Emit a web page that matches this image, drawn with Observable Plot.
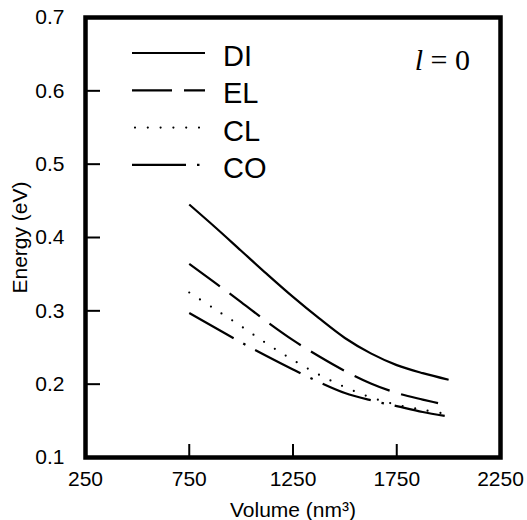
<!DOCTYPE html>
<html><head><meta charset="utf-8">
<script src="https://cdn.jsdelivr.net/npm/d3@7"></script>
<script src="https://cdn.jsdelivr.net/npm/@observablehq/plot@0.6"></script>
<style>body{margin:0;background:#fff;overflow:hidden;} #chart svg{display:block;}</style>
</head><body><div id="chart"></div>
<script>
// Data
const volume   = [750, 875, 1000, 1125, 1250, 1375, 1500, 1625, 1750, 1875, 2000];
const energyDI = [0.445, 0.414, 0.382, 0.350, 0.319, 0.290, 0.263, 0.242, 0.226, 0.215, 0.206];
const energyEL = [0.364, 0.338, 0.312, 0.285, 0.260, 0.238, 0.218, 0.201, 0.188, 0.179, 0.171];
const energyCL = [0.325, 0.302, 0.279, 0.255, 0.233, 0.213, 0.196, 0.182, 0.172, 0.165, 0.159];
const energyCO = [0.297, 0.277, 0.257, 0.238, 0.220, 0.203, 0.188, 0.178, 0.170, 0.162, 0.156];
const seriesNames = ["DI", "EL", "CL", "CO"];
const xTicks = [250, 750, 1250, 1750, 2250];
const yTicks = [0.1, 0.2, 0.3, 0.4, 0.5, 0.6, 0.7];
const xLabel = "Volume (nm³)";
const yLabel = "Energy (eV)";
const annotation = "l = 0";

const energies = {DI: energyDI, EL: energyEL, CL: energyCL, CO: energyCO};
const rows = seriesNames.flatMap(s => volume.map((v, i) => ({series: s, volume: v, energy: energies[s][i]})));

const styles = {
  DI: {dash: null, cap: "butt"},
  EL: {dash: "38 12", cap: "butt"},
  CL: {dash: "0 12.8", cap: "round"},
  CO: {dash: "51 11 2.5 11", cap: "butt"}
};

const W = 527, H = 520, mL = 85, mR = 27, mT = 17, mB = 63;
const innerW = W - mL - mR, innerH = H - mT - mB;
const font = "'Liberation Sans', Arial, Helvetica, sans-serif";

const chart = Plot.plot({
  width: W, height: H,
  marginLeft: mL, marginRight: mR, marginTop: mT, marginBottom: mB,
  style: {fontFamily: font, fontSize: "21px", color: "black", background: "white"},
  x: {domain: [250, 2250]},
  y: {domain: [0.1, 0.7]},
  marks: [
    Plot.axisX(xTicks, {anchor: "bottom", tickSize: 0, tickPadding: 14, fontSize: 21,
      tickFormat: d3.format("d"),
      label: xLabel, labelAnchor: "center", labelOffset: 59, labelArrow: "none"}),
    Plot.axisY(yTicks, {anchor: "left", tickSize: 0, tickPadding: 21, fontSize: 21,
      tickFormat: d3.format(".1f"),
      label: yLabel, labelAnchor: "center", labelOffset: 73, labelArrow: "none"}),
    Plot.ruleX(xTicks, {x: d => d, insetTop: innerH - 13, stroke: "black", strokeWidth: 2}),
    Plot.ruleY(yTicks, {y: d => d, insetRight: innerW - 15, stroke: "black", strokeWidth: 2}),
    ...seriesNames.map(s => Plot.line(rows.filter(d => d.series === s), {
      x: "volume", y: "energy", curve: "catmull-rom",
      stroke: "black", strokeWidth: 2.2,
      strokeDasharray: styles[s].dash, strokeLinecap: styles[s].cap
    })),
    Plot.frame({stroke: "black", strokeWidth: 4.5})
  ]
});

document.getElementById("chart").append(chart);

// Legend and annotation inside the plot area
const svg = d3.select(chart.tagName.toLowerCase() === "svg" ? chart : chart.querySelector("svg"));
const leg = svg.append("g").attr("class", "legend").attr("text-anchor", "start");
seriesNames.forEach((s, i) => {
  const y = 53 + i * 37.3;
  const x1 = s === "CL" ? 135 : 132;
  const x2 = s === "DI" || s === "EL" ? 205 : 200;
  leg.append("line")
    .attr("x1", x1).attr("x2", x2).attr("y1", y).attr("y2", y)
    .attr("stroke", "black").attr("stroke-width", 2.2)
    .attr("stroke-linecap", styles[s].cap)
    .attr("stroke-dasharray", s === "CO" ? "54 11 2.5 11" : (s === "EL" ? "40 12" : styles[s].dash));
  leg.append("text")
    .attr("x", 223).attr("y", y + 3)
    .attr("text-anchor", "start")
    .attr("dominant-baseline", "central")
    .attr("font-family", font).attr("font-size", 29)
    .attr("fill", "black")
    .text(s);
});
const ann = svg.append("text")
  .attr("x", 470).attr("y", 70)
  .attr("text-anchor", "end")
  .attr("font-family", "'Liberation Serif', 'Times New Roman', serif")
  .attr("font-size", 30).attr("fill", "black");
const parts = annotation.split(" ");
ann.append("tspan").attr("font-style", "italic").text(parts[0]);
ann.append("tspan").text(" " + parts.slice(1).join(" "));
</script>
</body></html>
